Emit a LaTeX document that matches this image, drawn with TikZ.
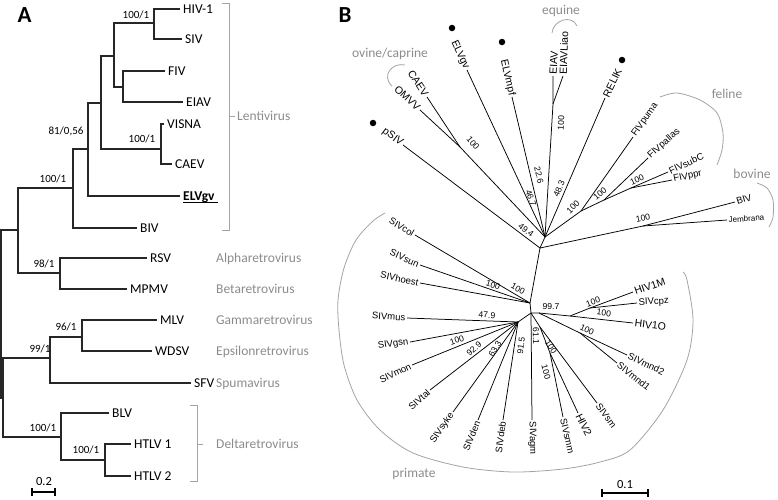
\documentclass[tikz,border=0pt]{standalone}
\usepackage{fontspec}
\setmainfont{Carlito}
\newfontfamily\arialf{Liberation Sans}
\usetikzlibrary{calc}
\definecolor{grpc}{HTML}{8C8C8C}
\definecolor{brkc}{HTML}{A3A3A3}
\begin{document}
\begin{tikzpicture}[x=1pt,y=-1pt,
  edgeA/.style={line width=1.3pt, draw=black!85},
  edgeB/.style={line width=0.75pt, draw=black},
  tipA/.style={font=\fontsize{13.5}{16}\selectfont, anchor=west, inner xsep=3pt, inner ysep=0pt, text height=8.7pt, text depth=0pt},
  bsA/.style={font=\fontsize{11}{13}\selectfont, inner sep=0pt, text height=7.1pt, text depth=0pt},
  grpA/.style={text=grpc, font=\fontsize{13.5}{16}\selectfont, anchor=west, inner sep=0pt, text height=8.7pt, text depth=0pt},
  grpB/.style={text=grpc, font=\fontsize{13.5}{16}\selectfont, anchor=base, inner sep=0pt},
  brk/.style={draw=brkc, line width=0.9pt},
  arcc/.style={draw=brkc, line width=0.8pt},
  tipL/.style={font=\arialf\fontsize{10.5}{12}\selectfont, inner sep=1.5pt},
  tipS/.style={font=\arialf\fontsize{9.5}{11}\selectfont, inner sep=1.5pt},
  bsB/.style={font=\arialf\fontsize{8.6}{10}\selectfont, inner sep=0pt},
  dot/.style={circle, fill=black, inner sep=0pt, minimum size=6.5pt},
  panel/.style={font=\bfseries\fontsize{23}{26}\selectfont, inner sep=0pt}
]
\useasboundingbox (0,0) rectangle (778,499);

%================ Panel A =================
\node[panel] (labA) at (24.5,15.5) {A};

\node[tipA] (hiv1)  at (180,9)   {HIV-1};
\node[tipA] (sivA)  at (182,39)  {SIV};
\node[tipA] (fivA)  at (165,71)  {FIV};
\node[tipA] (eiavA) at (183,102) {EIAV};
\node[tipA] (visna) at (164,124) {VISNA};
\node[tipA] (caevA) at (172,164) {CAEV};
\node[tipA, font=\bfseries\fontsize{13.5}{16}\selectfont] (elvgvA) at (180,196) {ELVgv};
\node[tipA] (bivA)  at (137,228) {BIV};
\node[tipA] (rsv)   at (147,258) {RSV};
\node[tipA] (mpmv)  at (127,289) {MPMV};
\node[tipA] (mlv)   at (157,320) {MLV};
\node[tipA] (wdsv)  at (152,351) {WDSV};
\node[tipA] (sfv)   at (191,383) {SFV};
\node[tipA] (blv)   at (109,413) {BLV};
\node[tipA] (htlv1) at (131,444) {HTLV 1};
\node[tipA] (htlv2) at (131,476) {HTLV 2};
\draw[line width=0.9pt] ($(elvgvA.south west)+(3,2)$) -- ($(elvgvA.south east)+(0,2)$);

\coordinate (n8) at (154,23);
\coordinate (n9) at (123,87);
\coordinate (n6) at (114,56);
\coordinate (n7) at (161,149);
\coordinate (n5) at (101,103);
\coordinate (n4) at (88,149);
\coordinate (n2) at (73,188);
\coordinate (n3) at (60,273);
\coordinate (n1) at (18,230);
\coordinate (m3) at (82,337);
\coordinate (m1) at (50,358);
\coordinate (m4) at (105,460);
\coordinate (m2) at (61,437);
\coordinate (m0) at (3,398);
\coordinate (rt) at (1,314);

\draw[edgeA] (n8) |- (hiv1.west);  \draw[edgeA] (n8) |- (sivA.west);
\draw[edgeA] (n9) |- (fivA.west);  \draw[edgeA] (n9) |- (eiavA.west);
\draw[edgeA] (n6) |- (n8);         \draw[edgeA] (n6) |- (n9);
\draw[edgeA] (n7) |- (visna.west); \draw[edgeA] (n7) |- (caevA.west);
\draw[edgeA] (n5) |- (n6);         \draw[edgeA] (n5) |- (n7);
\draw[edgeA] (n4) |- (n5);         \draw[edgeA] (n4) |- (elvgvA.west);
\draw[edgeA] (n2) |- (n4);         \draw[edgeA] (n2) |- (bivA.west);
\draw[edgeA] (n3) |- (rsv.west);   \draw[edgeA] (n3) |- (mpmv.west);
\draw[edgeA] (n1) |- (n2);         \draw[edgeA] (n1) |- (n3);
\draw[edgeA] (m3) |- (mlv.west);   \draw[edgeA] (m3) |- (wdsv.west);
\draw[edgeA] (m1) |- (m3);         \draw[edgeA] (m1) |- (sfv.west);
\draw[edgeA] (m4) |- (htlv1.west); \draw[edgeA] (m4) |- (htlv2.west);
\draw[edgeA] (m2) |- (blv.west);   \draw[edgeA] (m2) |- (m4);
\draw[edgeA] (m0) |- (m1);         \draw[edgeA] (m0) |- (m2);
\draw[edgeA] (rt) |- (n1);         \draw[edgeA] (rt) |- (m0);

\node[bsA] (b1) at (136,15)  {100/1};
\node[bsA] (b2) at (66,131)  {81/0,56};
\node[bsA] (b3) at (142,139) {100/1};
\node[bsA] (b4) at (53,179)  {100/1};
\node[bsA] (b5) at (44,264)  {98/1};
\node[bsA] (b6) at (66,327)  {96/1};
\node[bsA] (b7) at (40,349)  {99/1};
\node[bsA] (b8) at (43,428)  {100/1};
\node[bsA] (b9) at (86,450)  {100/1};

\draw[brk] (222,3) -- (229,3) -- (229,230) -- (222,230);
\draw[brk] (229,116) -- (235,116);
\draw[brk] (190,405) -- (197,405) -- (197,481) -- (190,481);
\draw[brk] (197,444) -- (203,444);
\node[grpA] (gLenti) at (237,116) {Lentivirus};
\node[grpA] (gAlpha) at (216,258) {Alpharetrovirus};
\node[grpA] (gBeta)  at (216,289) {Betaretrovirus};
\node[grpA] (gGamma) at (216,320) {Gammaretrovirus};
\node[grpA] (gEps)   at (216,351) {Epsilonretrovirus};
\node[grpA] (gSpuma) at (216,383) {Spumavirus};
\node[grpA] (gDelta) at (216,444) {Deltaretrovirus};

\draw[line width=1.3pt] (32,492) -- (55,492);
\draw[line width=1.1pt] (32,488) -- (32,496) (55,488) -- (55,496);
\node[font=\fontsize{12.5}{14}\selectfont, inner sep=0pt] (sbA) at (44,481) {0.2};

%================ Panel B =================
\node[panel] (labB) at (345,15.5) {B};

\coordinate (U1) at (540,248);
\coordinate (U2) at (545,237);
\coordinate (L1) at (530,303);
\coordinate (L2) at (531,313);
\coordinate (L3) at (518,322);
\coordinate (L5) at (540,327);
\coordinate (Jhs) at (550,353);
\coordinate (Joc) at (460,147);
\coordinate (Jel) at (553,104);
\coordinate (F1) at (581,211);
\coordinate (F2) at (604,200);
\coordinate (F3) at (631,188);
\coordinate (Jbj) at (643,226);
\coordinate (H0) at (539,313);
\coordinate (H1) at (570,316);
\coordinate (H2) at (590,308);
\coordinate (M1) at (580,333);

% tip labels
\node[tipL, anchor=east, rotate=-37] (pSIV)   at (403,145) {pSIV};
\node[tipL, anchor=east, rotate=-57] (CAEV)   at (427,97)  {CAEV};
\node[tipL, anchor=east, rotate=-43] (OMVV)   at (420,110) {OMVV};
\node[tipL, anchor=east, rotate=-65] (ELVgv)  at (467,70)  {ELVgv};
\node[tipL, anchor=east, rotate=-77] (ELVmpf) at (512,97)  {ELVmpf};
\node[tipL, anchor=west, rotate=87]  (EIAV)   at (553,76)  {EIAV};
\node[tipL, anchor=west, rotate=88]  (EIAVL)  at (563,76)  {EIAVLiao};
\node[tipL, anchor=west, rotate=64]  (RELIK)  at (605,98)  {RELIK};
\node[tipS, anchor=west, rotate=55]  (FIVpuma)   at (633,137) {FIVpuma};
\node[tipS, anchor=west, rotate=42]  (FIVpallas) at (648,158) {FIVpallas};
\node[tipS, anchor=west, rotate=25]  (FIVsubC)   at (668,172) {FIVsubC};
\node[tipS, anchor=west, rotate=12]  (FIVppr)    at (672,180) {FIVppr};
\node[tipS, anchor=west, rotate=17]  (BIV)       at (735,202) {BIV};
\node[tipS, anchor=west, rotate=4, font=\arialf\fontsize{8}{10}\selectfont] (Jem) at (727,220) {Jembrana};

\node[tipS, anchor=east, rotate=-31] (SIVcol)   at (415,235) {SIVcol};
\node[tipS, anchor=east, rotate=-24] (SIVsun)   at (420,265) {SIVsun};
\node[tipS, anchor=east, rotate=-12] (SIVhoest) at (420,283) {SIVhoest};
\node[tipS, anchor=east, rotate=-4]  (SIVmus)   at (407,318) {SIVmus};
\node[tipS, anchor=east, rotate=8]   (SIVgsn)   at (410,342) {SIVgsn};
\node[tipS, anchor=east, rotate=26]  (SIVmon)   at (412,365) {SIVmon};
\node[tipS, anchor=east, rotate=42]  (SIVtal)   at (430,390) {SIVtal};
\node[tipS, anchor=east, rotate=56]  (SIVsyke)  at (453,412) {SIVsyke};
\node[tipS, anchor=east, rotate=68]  (SIVden)   at (478,420) {SIVden};
\node[tipS, anchor=east, rotate=82]  (SIVdeb)   at (503,420) {SIVdeb};
\node[tipS, anchor=west, rotate=-89] (SIVagm)   at (532,420) {SIVagm};
\node[tipS, anchor=west, rotate=-77] (SIVsmm)   at (563,417) {SIVsmm};
\node[tipL, anchor=west, rotate=-64] (HIV2)     at (578,413) {HIV2};
\node[tipS, anchor=west, rotate=-54] (SIVsm)    at (597,403) {SIVsm};
\node[tipS, anchor=west, rotate=-38] (SIVmnd1)  at (617,363) {SIVmnd1};
\node[tipS, anchor=west, rotate=-25] (SIVmnd2)  at (627,355) {SIVmnd2};
\node[tipL, anchor=west, rotate=-7]  (HIV1O)    at (633,323) {HIV1O};
\node[tipS, anchor=west, rotate=3]   (SIVcpz)   at (637,303) {SIVcpz};
\node[tipL, anchor=west, rotate=19]  (HIV1M)    at (633,292) {HIV1M};

% dots
\node[dot] (dpSIV)  at (373,123) {};
\node[dot] (dELVgv) at (452,28)  {};
\node[dot] (dELVmpf) at (502,42) {};
\node[dot] (dRELIK) at (622,60)  {};

% branches
\draw[edgeB] (U1) -- (U2);
\draw[edgeB] (U1) -- (L1);
\draw[edgeB] (U1) -- (pSIV.east);
\draw[edgeB] (U1) -- (Jbj) -- (BIV.west);
\draw[edgeB] (Jbj) -- (Jem.west);
\draw[edgeB] (U2) -- (Joc) -- (CAEV.east);
\draw[edgeB] (Joc) -- (OMVV.east);
\draw[edgeB] (U2) -- (ELVgv.east);
\draw[edgeB] (U2) -- (ELVmpf.east);
\draw[edgeB] (U2) -- (Jel) -- (EIAV.west);
\draw[edgeB] (Jel) -- (EIAVL.west);
\draw[edgeB] (U2) -- (RELIK.west);
\draw[edgeB] (U2) -- (F1) -- (FIVpuma.west);
\draw[edgeB] (F1) -- (F2) -- (FIVpallas.west);
\draw[edgeB] (F2) -- (F3) -- (FIVsubC.west);
\draw[edgeB] (F3) -- (FIVppr.west);

\draw[edgeB] (L1) -- (SIVcol.east);
\draw[edgeB] (L1) -- (SIVsun.east);
\draw[edgeB] (L1) -- (SIVhoest.east);
\draw[edgeB] (L1) -- (L2);
\draw[edgeB] (L2) -- (L3);
\foreach \t in {SIVmus,SIVgsn,SIVmon,SIVtal,SIVsyke,SIVden,SIVdeb}
  \draw[edgeB] (L3) -- (\t.east);
\draw[edgeB] (L2) -- (SIVagm.west);
\draw[edgeB] (L2) -- (L5) -- (SIVsm.west);
\draw[edgeB] (L5) -- (Jhs) -- (HIV2.west);
\draw[edgeB] (Jhs) -- (SIVsmm.west);
\draw[edgeB] (L2) -- (H0) -- (H1) -- (HIV1O.west);
\draw[edgeB] (H1) -- (H2) -- (HIV1M.west);
\draw[edgeB] (H2) -- (SIVcpz.west);
\draw[edgeB] (H0) -- (M1) -- (SIVmnd2.west);
\draw[edgeB] (M1) -- (SIVmnd1.west);

% bootstrap values
\node[bsB, rotate=-50] (bo1)  at (473,143) {100};
\node[bsB, rotate=-70] (bo2)  at (531,198) {46.7};
\node[bsB, rotate=-77] (bo3)  at (539,175) {22.6};
\node[bsB, rotate=66]  (bo4)  at (559,189) {48.3};
\node[bsB, rotate=87]  (bo5)  at (561,123) {100};
\node[bsB, rotate=-37] (bo6)  at (526,230) {49.4};
\node[bsB, rotate=45]  (bo7)  at (573,207) {100};
\node[bsB, rotate=40]  (bo8)  at (600,194) {100};
\node[bsB, rotate=25]  (bo9)  at (637,180) {100};
\node[bsB, rotate=12]  (bo10) at (643,218) {100};
\node[bsB, rotate=-30] (bo11) at (518,289) {100};
\node[bsB, rotate=-17] (bo12) at (493,285) {100};
\node[bsB]             (bo13) at (551,307) {99.7};
\node[bsB, rotate=-4]  (bo14) at (487,315) {47.9};
\node[bsB, rotate=18]  (bo15) at (457,340) {100};
\node[bsB, rotate=40]  (bo16) at (474,349) {92.9};
\node[bsB, rotate=58]  (bo17) at (495,349) {63.3};
\node[bsB, rotate=82]  (bo18) at (521,346) {91.5};
\node[bsB, rotate=-88] (bo19) at (536,336) {61.1};
\node[bsB, rotate=-58] (bo20) at (551,347) {100};
\node[bsB, rotate=-75] (bo21) at (546,372) {100};
\node[bsB, rotate=20]  (bo22) at (593,302) {100};
\node[bsB, rotate=-8]  (bo23) at (604,313) {100};
\node[bsB, rotate=-25] (bo24) at (587,330) {100};

% group labels and arcs
\node[grpB] (gOvine)  at (390,57)  {ovine/caprine};
\node[grpB] (gEquine) at (561,14)  {equine};
\node[grpB] (gFeline) at (727,98)  {feline};
\node[grpB] (gBovine) at (752,178) {bovine};
\node[grpB] (gPrim)   at (414,477) {primate};

\draw[arcc] (405,65) .. controls (392,62) and (381,76) .. (392,86);
\draw[arcc] (552,33) .. controls (553,20) and (572,14) .. (577,26);
\draw[arcc] plot[smooth] coordinates {(660,97) (677,93) (700,100) (717,113) (723,133) (722,150) (717,165)};
\draw[arcc] plot[smooth] coordinates {(757,183) (767,188) (773,200) (773,217) (769,227)};
\draw[arcc] plot[smooth] coordinates {(385,213) (373,221) (356,240) (344,268) (338,300) (339,330) (344,365) (357,400) (380,430) (413,453) (463,467) (513,472) (563,469) (600,462) (630,450) (663,410) (687,360) (693,320) (687,280) (683,272)};

% scale bar B
\draw[line width=1.3pt] (602,493) -- (648,493);
\draw[line width=1.1pt] (602,489) -- (602,497) (648,489) -- (648,497);
\node[font=\fontsize{12.5}{14}\selectfont, inner sep=0pt] (sbB) at (625,484) {0.1};

\end{tikzpicture}
\end{document}
